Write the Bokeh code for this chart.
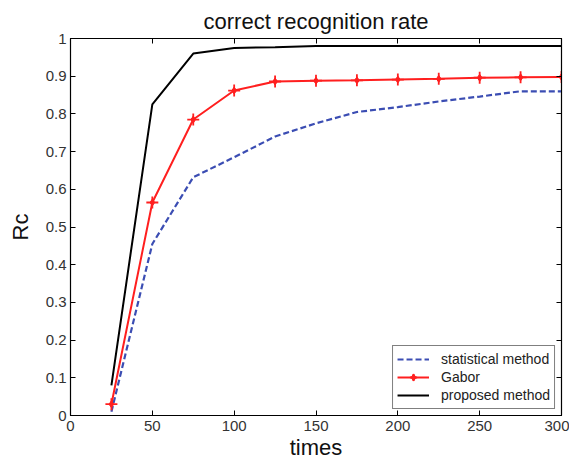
from bokeh.plotting import figure
from bokeh.models import (LinearAxis, FixedTicker, CustomJSTickFormatter, Legend, LegendItem, Range1d)
from bokeh.embed import file_html
from bokeh.resources import INLINE

times = [25, 50, 75, 100, 125, 150, 175, 200, 225, 250, 275, 300]
statistical = [0.01, 0.455, 0.632, 0.685, 0.740, 0.775, 0.805, 0.818, 0.833, 0.846, 0.860, 0.860]
gabor = [0.03, 0.565, 0.785, 0.862, 0.886, 0.888, 0.889, 0.891, 0.893, 0.896, 0.897, 0.898]
proposed = [0.08, 0.825, 0.960, 0.975, 0.977, 0.980, 0.980, 0.980, 0.980, 0.980, 0.980, 0.980]
x_ticks = [0, 50, 100, 150, 200, 250, 300]
y_ticks = [0, 0.1, 0.2, 0.3, 0.4, 0.5, 0.6, 0.7, 0.8, 0.9, 1.0]

FONT = "Liberation Sans"

p = figure(width=569, height=462, output_backend="svg", toolbar_location=None,
           x_range=Range1d(0, 300), y_range=Range1d(0, 1),
           min_border_left=70, min_border_right=8, min_border_top=38, min_border_bottom=41,
           title="correct recognition rate")
p.title.text_font = FONT
p.title.text_font_size = "22px"
p.title.text_font_style = "normal"
p.title.align = "center"
p.title.text_color = "#111111"
p.title.standoff = 9
p.grid.visible = False
p.outline_line_color = "black"
p.outline_line_width = 1.2
p.background_fill_color = "white"
p.border_fill_color = "white"

fmt = CustomJSTickFormatter(code="return String(Math.round(tick*10)/10);")
blank = CustomJSTickFormatter(code="return '';")

for ax in [p.xaxis[0], p.yaxis[0]]:
    ax.major_tick_in = 5
    ax.major_tick_out = 0
    ax.minor_tick_in = 0
    ax.minor_tick_out = 0
    ax.axis_line_color = "black"
    ax.major_label_text_font = FONT
    ax.major_label_text_font_size = "15px"
    ax.major_label_text_color = "#333333"
    ax.axis_label_text_font = FONT
    ax.axis_label_text_font_size = "22px"
    ax.axis_label_text_font_style = "normal"
    ax.axis_label_text_color = "#111111"

p.xaxis[0].ticker = FixedTicker(ticks=x_ticks)
p.yaxis[0].ticker = FixedTicker(ticks=y_ticks)
p.yaxis[0].formatter = fmt
p.xaxis[0].axis_label = "times"
p.yaxis[0].axis_label = "Rc"
p.xaxis[0].axis_label_standoff = 1
p.xaxis[0].major_label_standoff = 5
p.yaxis[0].major_label_standoff = 4
p.yaxis[0].axis_label_standoff = 10

top = LinearAxis(ticker=FixedTicker(ticks=x_ticks), formatter=blank,
                 major_tick_in=5, major_tick_out=0, minor_tick_in=0, minor_tick_out=0,
                 major_label_standoff=0)
right = LinearAxis(ticker=FixedTicker(ticks=y_ticks), formatter=blank,
                   major_tick_in=5, major_tick_out=0, minor_tick_in=0, minor_tick_out=0,
                   major_label_standoff=0)
p.add_layout(top, "above")
p.add_layout(right, "right")

r_stat = p.line(times, statistical, line_color="#3b4db3", line_width=2.2, line_dash="6 3")
r_gab = p.line(times, gabor, line_color="#ff1f1f", line_width=2)
r_gab_m1 = p.scatter(times, gabor, marker="diamond", size=7, fill_color="#ff1f1f", line_color="#ff1f1f")
r_gab_m2 = p.scatter(times, gabor, marker="cross", size=12, line_color="#ff1f1f", line_width=1.8)
r_prop = p.line(times, proposed, line_color="black", line_width=2)

legend = Legend(items=[
    LegendItem(label="statistical method", renderers=[r_stat]),
    LegendItem(label="Gabor", renderers=[r_gab, r_gab_m1, r_gab_m2]),
    LegendItem(label="proposed method", renderers=[r_prop]),
], location="bottom_right")
legend.label_text_font = FONT
legend.label_text_font_size = "14px"
legend.label_text_color = "#222222"
legend.border_line_color = "black"
legend.border_line_width = 1
legend.background_fill_alpha = 1
legend.glyph_width = 32
legend.glyph_height = 18
legend.label_height = 18
legend.spacing = 0
legend.padding = 4
legend.margin = 6
legend.label_standoff = 12
p.add_layout(legend)

open("out.html", "w").write(file_html(p, INLINE))
